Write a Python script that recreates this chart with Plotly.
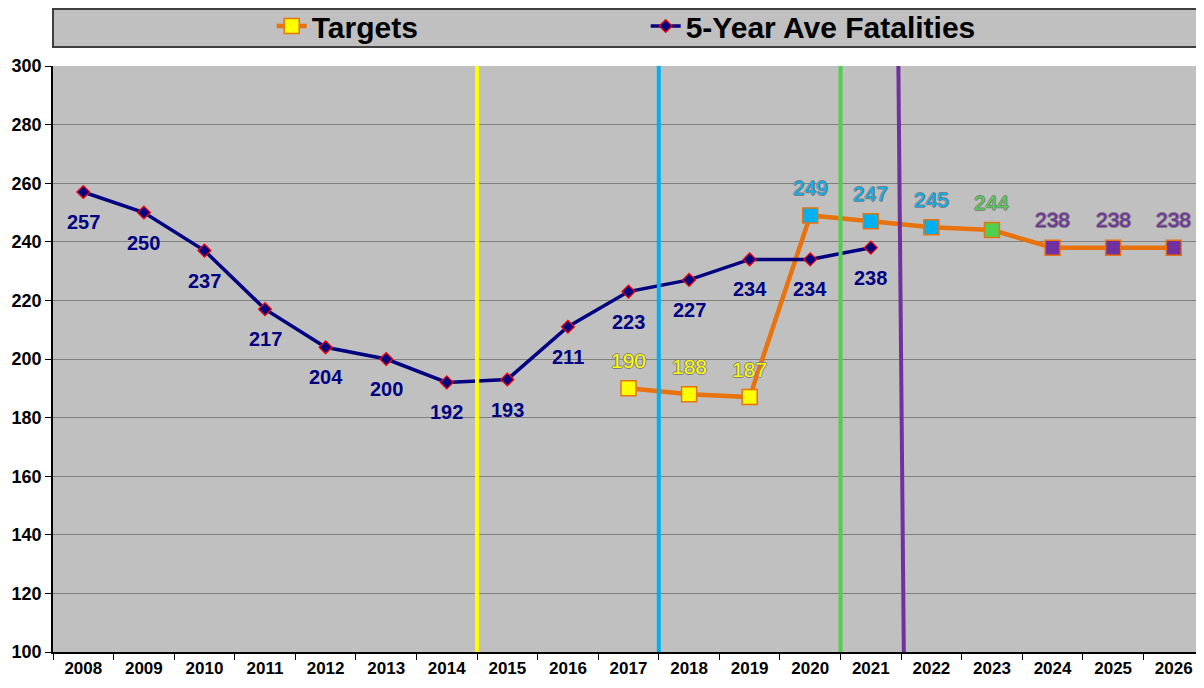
import plotly.graph_objects as go

years = [str(y) for y in range(2008, 2027)]
ave_years = [str(y) for y in range(2008, 2022)]
ave_values = [257, 250, 237, 217, 204, 200, 192, 193, 211, 223, 227, 234, 234, 238]
target_years = [str(y) for y in range(2017, 2027)]
target_values = [190, 188, 187, 249, 247, 245, 244, 238, 238, 238]
target_colors = ["#FFFF00", "#FFFF00", "#FFFF00", "#00B0F0", "#00B0F0", "#00B0F0",
                 "#4FD04F", "#7030A0", "#7030A0", "#7030A0"]
# divider lines: (year before, year after, color, slant)
dividers = [("2014", "2015", "#FFFF00", 0.0), ("2017", "2018", "#00B0F0", 0.0),
            ("2020", "2021", "#4FD04F", 0.0), ("2021", "2022", "#7030A0", 0.09)]

W, H = 1196, 680  # page body has an 8px margin
ML, MR, MT, MB = 45, 0, 58, 36
PH = H - MT - MB

fig = go.Figure()

fig.add_trace(go.Scatter(
    x=target_years, y=target_values, name="Targets", mode="lines+markers",
    line=dict(color="#E8720C", width=4.5),
    marker=dict(symbol="square", size=15, color=target_colors,
                line=dict(color="#E8720C", width=1.5)),
))
fig.add_trace(go.Scatter(
    x=ave_years, y=ave_values, name="5-Year Ave Fatalities", mode="lines+markers",
    line=dict(color="#000080", width=3.5),
    marker=dict(symbol="diamond", size=10, color="#000080",
                line=dict(color="#FF0000", width=1.2)),
))

for y0, y1, col, slant in dividers:
    xb = (years.index(y0) + years.index(y1)) / 2
    fig.add_shape(type="line", xref="x", yref="y",
                  x0=xb - slant / 2, x1=xb + slant / 2, y0=300, y1=100,
                  line=dict(color=col, width=4), layer="above")

for x, v in zip(ave_years, ave_values):
    fig.add_annotation(x=years.index(x), y=v, text="<b>%d</b>" % v, showarrow=False, yshift=-30,
                       font=dict(family="Liberation Sans, Arial", size=20, color="#000080"))

for x, v, c in zip(target_years, target_values, target_colors):
    fig.add_annotation(x=years.index(x), y=v, text=str(v), showarrow=False, yshift=28,
                       font=dict(family="Liberation Sans, Arial", size=21, color=c,
                                 shadow="-1px 0 #808080, 1px 0 #808080, 0 -1px #808080, 0 1px #808080"))

# legend box
fig.add_shape(type="rect", xref="paper", yref="paper", x0=0.0, x1=0.996,
              y0=1 + (66 - 47) / PH, y1=1 + (66 - 9) / PH,
              fillcolor="#C0C0C0", line=dict(color="#404040", width=2), layer="below")

fig.update_layout(
    width=W, height=H,
    margin=dict(l=ML, r=MR, t=MT, b=MB, autoexpand=False),
    paper_bgcolor="white", plot_bgcolor="#C0C0C0",
    showlegend=True,
    legend=dict(orientation="h", x=0.19, xanchor="left", y=1 + 40 / PH, yanchor="middle",
                bgcolor="rgba(0,0,0,0)", entrywidth=329, itemwidth=30,
                font=dict(family="Liberation Sans, Arial",
                          size=30, color="black", weight="bold")),
    xaxis=dict(type="category", categoryorder="array", categoryarray=years,
               range=[-0.5, len(years) - 0.5], showgrid=False,
               showline=True, linecolor="black", linewidth=1.5,
               ticks="outside", tickson="boundaries", ticklen=6, tickcolor="black",
               tickfont=dict(family="Liberation Sans, Arial", size=17, color="black", weight="bold")),
    yaxis=dict(range=[100, 300], dtick=20, showgrid=True, gridcolor="#808080", gridwidth=1.3,
               showline=True, linecolor="black", linewidth=1.5,
               ticks="outside", ticklen=6, tickcolor="black",
               tickfont=dict(family="Liberation Sans, Arial", size=18, color="black", weight="bold")),
)

fig.write_html("out.html")
